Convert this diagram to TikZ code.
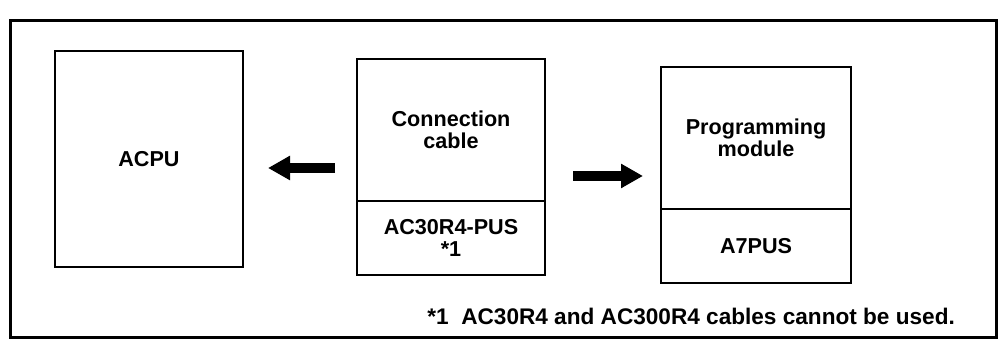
\documentclass[tikz,border=0pt]{standalone}
\usepackage{fontspec}
\setmainfont{Liberation Sans}
\usetikzlibrary{arrows.meta}
\begin{document}
\begin{tikzpicture}[x=0.5pt,y=-0.5pt,
  box/.style={draw,line width=1pt,outer sep=0pt,minimum width=94pt,inner sep=0pt,align=center,font=\bfseries\fontsize{10.8}{11}\selectfont},
  bigarrow/.style={line width=5pt,-{Triangle[length=11pt,width=11.5pt]}},
  frame/.style={draw,line width=1.5pt}]
\useasboundingbox (0,0) rectangle (1000,351);
\draw[frame] (10,21) rectangle (996,338);
% ACPU
\node[box,minimum height=108pt] (acpu) at (149,159) {ACPU};
% Connection cable
\node[box,minimum height=71pt] (cabtop) at (451,130) {Connection\\cable};
\node[box,minimum height=37pt,anchor=north] (cabbot) at (cabtop.south) {AC30R4-PUS\\*1};
% Programming module
\node[box,minimum width=95pt,minimum height=71pt] (progtop) at (756,138) {Programming\\module};
\node[box,minimum width=95pt,minimum height=37pt,anchor=north] (progbot) at (progtop.south) {A7PUS};
% arrows
\coordinate (la) at ([xshift=-11pt]cabtop.west |- 0,168);
\coordinate (lb) at ([xshift=12.5pt]acpu.east |- 0,168);
\draw[bigarrow] (la) -- (lb);
\coordinate (ra) at ([xshift=14pt]cabtop.east |- 0,176);
\coordinate (rb) at ([xshift=-9pt]progtop.west |- 0,176);
\draw[bigarrow] (ra) -- (rb);
% footnote
\node[anchor=west,inner sep=0pt,font=\bfseries\fontsize{11.3}{12}\selectfont] (note) at (427,316) {*1\ \ AC30R4 and AC300R4 cables cannot be used.};
\end{tikzpicture}
\end{document}
